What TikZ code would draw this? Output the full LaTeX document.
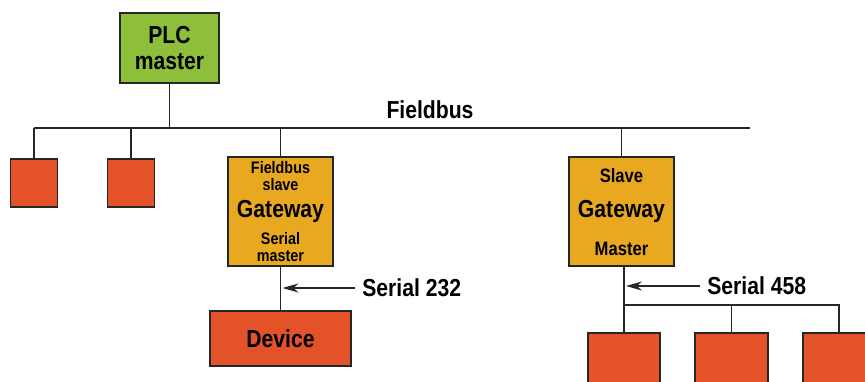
\documentclass[tikz,border=0pt]{standalone}
\usepackage{fontspec}
\setmainfont{Liberation Sans}[FakeStretch=0.86]
\usepackage{tikz}
\usetikzlibrary{arrows.meta,positioning,calc}
\definecolor{plcgreen}{RGB}{141,191,58}
\definecolor{devred}{RGB}{228,82,42}
\definecolor{gwamber}{RGB}{232,168,32}

\begin{document}
\begin{tikzpicture}[
  x=0.2mm, y=-0.2mm,
  box/.style={draw=black!85,line width=1.1pt,inner sep=0pt,align=center,
              font=\bfseries\fontsize{14}{15}\selectfont},
  plcbox/.style={box,fill=plcgreen,minimum width=19.8mm,minimum height=14mm},
  leaf/.style={box,fill=devred,minimum width=9.4mm,minimum height=9.6mm},
  gateway/.style={box,fill=gwamber,minimum width=21mm,minimum height=21.8mm},
  gwtext/.style={inner sep=0pt,align=center,
                 font=\bfseries\fontsize{9.5}{9.5}\selectfont},
  buslabel/.style={inner sep=0pt,font=\bfseries\fontsize{14}{15}\selectfont},
  wire/.style={line width=1.1pt,draw=black!85},
  feed/.style={wire,-{Stealth[length=3.2mm,width=1.8mm]}}
]
\clip (0,0) rectangle (865,381);

% field level
\node[plcbox] (plc) at (169.5,48) {PLC\\master};
\coordinate (busL) at (34,128);
\coordinate (busR) at (750,128);
\node[buslabel] (fbus) at (430,110) {Fieldbus};

\node[leaf] (leaf1) at (34,183) {};
\node[leaf] (leaf2) at (131,183) {};

\node[gateway] (gw1) at (280.5,211.5) {Gateway};
\node[gwtext, below=1mm of gw1.north] (gw1top) {Fieldbus\\slave};
\node[gwtext, above=1mm of gw1.south] (gw1bot) {Serial\\master};

\node[gateway] (gw2) at (621.5,211.5) {Gateway};
\node[gwtext, below=2.4mm of gw2.north, font=\bfseries\fontsize{11}{12}\selectfont] (gw2top) {Slave};
\node[gwtext, above=2.2mm of gw2.south, font=\bfseries\fontsize{11}{12}\selectfont] (gw2bot) {Master};

% serial side
\node[box,fill=devred,minimum width=28.2mm,minimum height=11mm] (dev) at (280.5,338.5) {Device};
\node[buslabel, anchor=west] (ser1) at (362,288) {Serial 232};

\node[leaf,minimum width=14.4mm,minimum height=12mm] (s1) at (624,363) {};
\node[leaf,minimum width=14.6mm,minimum height=12mm] (s2) at (731.5,363) {};
\node[leaf,minimum width=14.4mm,minimum height=12mm] (s3) at (839,363) {};
\coordinate (sbus) at (624,305);
\node[buslabel, anchor=west] (ser2) at (707,286) {Serial 458};

\draw[wire] (busL) -- (busR);
\draw[wire] (plc.south) -- (plc.south |- busL);
\draw[wire] (leaf1.north) -- (leaf1.north |- busL);
\draw[wire] (leaf2.north) -- (leaf2.north |- busL);
\draw[wire] (gw1.north) -- (gw1.north |- busL);
\draw[wire] (gw2.north) -- (gw2.north |- busL);

\draw[wire] (gw1.south) -- (dev.north);
\draw[feed] ([xshift=-1.5mm]ser1.west) -- ([xshift=0.4mm]ser1.west -| dev.north);

\draw[wire] (gw2.south -| s1.north) -- (s1.north);
\draw[wire] (sbus) -- (sbus -| s3.north) -- (s3.north);
\draw[wire] (s2.north |- sbus) -- (s2.north);
\draw[feed] ([xshift=-1.5mm]ser2.west) -- ([xshift=0.4mm]ser2.west -| s1.north);
\end{tikzpicture}
\end{document}
